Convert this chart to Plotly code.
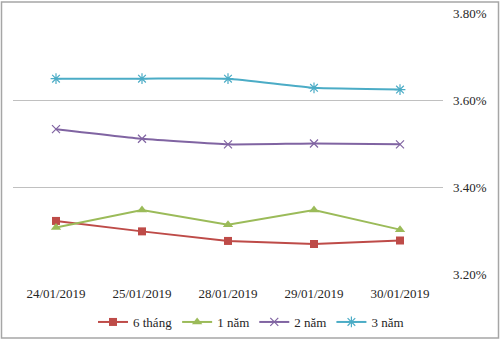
import plotly.graph_objects as go

dates = ["24/01/2019", "25/01/2019", "28/01/2019", "29/01/2019", "30/01/2019"]
y_6thang = [3.322, 3.298, 3.276, 3.269, 3.277]
y_1nam = [3.307, 3.347, 3.313, 3.347, 3.302]
y_2nam = [3.533, 3.511, 3.498, 3.500, 3.498]
y_3nam = [3.649, 3.649, 3.649, 3.628, 3.624]
y_ticks = [3.20, 3.40, 3.60, 3.80]

W, H = 500, 340
L, R, T, B = 13, 57, 13, 66
pw, ph = W - L - R, H - T - B
SERIF = "Liberation Serif"

fig = go.Figure()
fig.add_trace(go.Scatter(
    x=dates, y=y_6thang, name="6 tháng", mode="lines+markers",
    line=dict(color="#BE4B48", width=2),
    marker=dict(symbol="square", size=8, color="#BE4B48"),
))
fig.add_trace(go.Scatter(
    x=dates, y=y_1nam, name="1 năm", mode="lines+markers",
    line=dict(color="#9BBB59", width=2),
    marker=dict(symbol="triangle-up", size=9, color="#9BBB59"),
))
fig.add_trace(go.Scatter(
    x=dates, y=y_2nam, name="2 năm", mode="lines+markers",
    line=dict(color="#8064A2", width=2, shape="spline", smoothing=0.4),
    marker=dict(symbol="x-thin-open", size=8, line=dict(color="#C0B2D8", width=1.2)),
))
fig.add_trace(go.Scatter(
    x=dates, y=y_3nam, name="3 năm", mode="lines+markers",
    line=dict(color="#4BACC6", width=2, shape="spline", smoothing=0.4),
    marker=dict(symbol="asterisk-open", size=9, line=dict(color="#A8DAEA", width=1.2)),
))

# outer frame around the whole chart
fig.add_shape(
    type="rect", xref="paper", yref="paper",
    x0=(1.5 - L) / pw, x1=(W - 1.5 - L) / pw,
    y0=-(H - 2 - T - ph) / ph, y1=1 + (T - 2) / ph,
    line=dict(color="#A6A6A6", width=1.5), layer="below",
)

fig.update_layout(
    width=W, height=H,
    margin=dict(l=L, r=R, t=T, b=B, autoexpand=False),
    paper_bgcolor="white", plot_bgcolor="white",
    font=dict(family=SERIF, size=13, color="#262626"),
    showlegend=True,
    legend=dict(
        orientation="h", x=(251 - L) / pw, xanchor="center",
        y=-(322 - T - ph) / ph, yanchor="middle",
        font=dict(family=SERIF, size=13, color="#262626"),
        itemwidth=30, tracegroupgap=0,
    ),
    xaxis=dict(
        type="category", range=[-0.5, 4.5], showgrid=False, showline=False,
        zeroline=False, ticks="", ticklabelstandoff=10,
        tickfont=dict(family=SERIF, size=13, color="#262626"),
    ),
    yaxis=dict(
        side="right", range=[3.2, 3.8], tickvals=y_ticks,
        ticktext=[f"{v:.2f}%" for v in y_ticks],
        showgrid=True, gridcolor="#C0C0C0", gridwidth=1,
        zeroline=False, showline=False, ticks="",
        tickfont=dict(family=SERIF, size=13, color="#262626"), ticklabelstandoff=9,
    ),
)

fig.write_html("out.html")
